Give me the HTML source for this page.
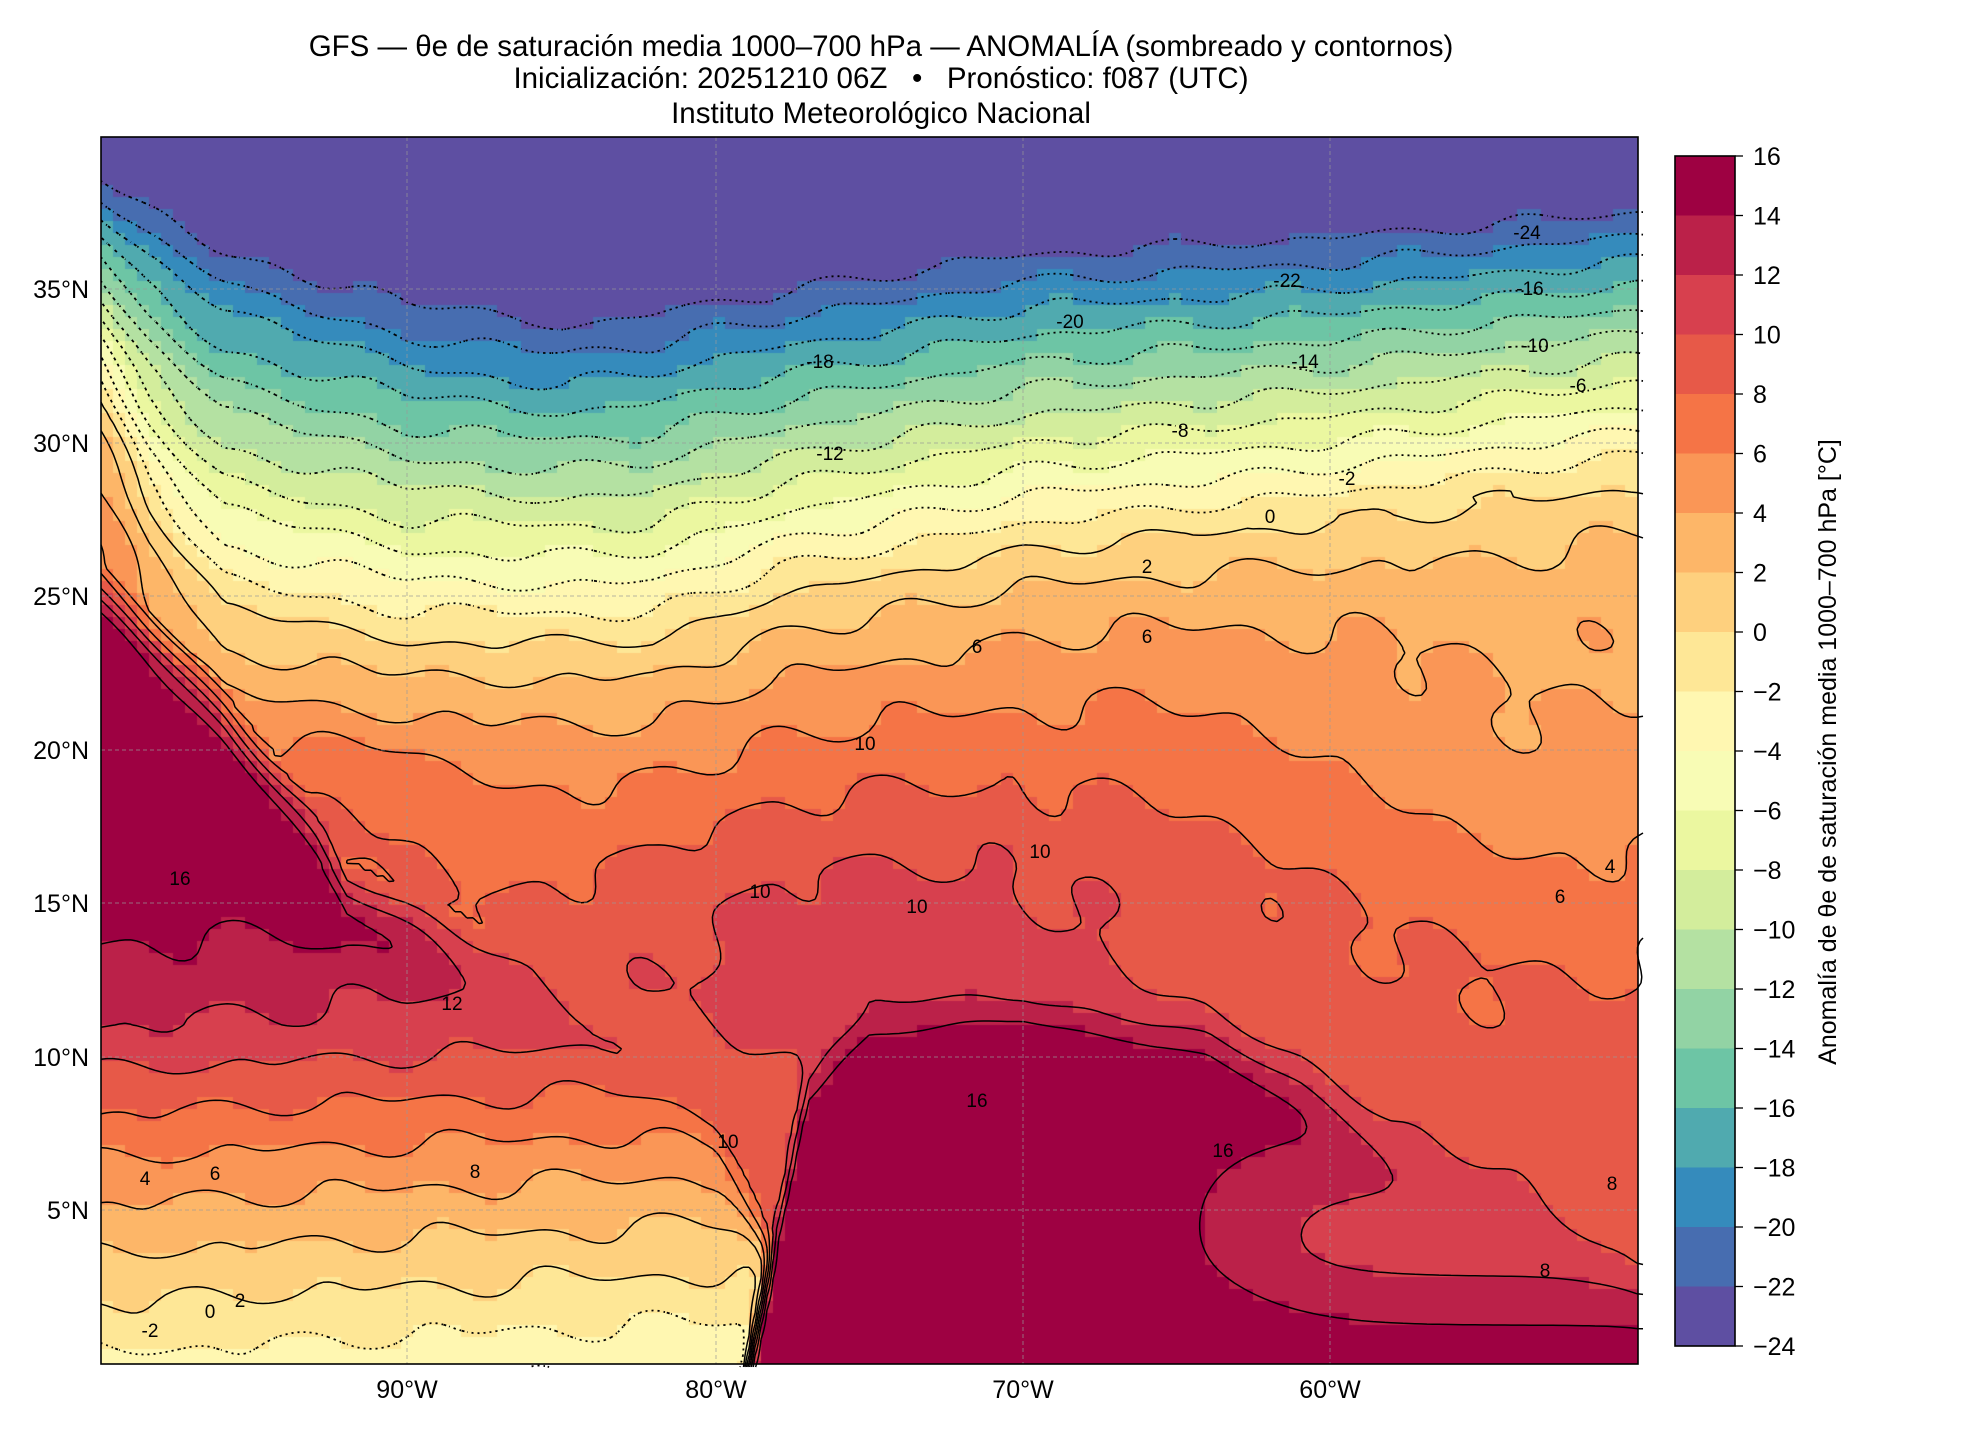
<!DOCTYPE html>
<html><head><meta charset="utf-8">
<style>
body{margin:0;background:#fff;width:1980px;height:1440px;position:relative;overflow:hidden;font-family:"Liberation Sans","DejaVu Sans",sans-serif;}
.t{position:absolute;left:0;width:1762px;text-align:center;font-size:29.5px;color:#000;line-height:1;}
#cv{position:absolute;left:101px;top:137px;}
svg{position:absolute;left:0;top:0;}
</style></head><body>
<svg width="1980" height="1440" id="bg">
<defs>
<linearGradient id="lg" x1="0" y1="0" x2="0" y2="1">
<stop offset="0" stop-color="#5e4fa2"/><stop offset="0.11" stop-color="#5e4fa2"/>
<stop offset="0.15" stop-color="#3288bd"/><stop offset="0.2" stop-color="#66c2a5"/>
<stop offset="0.26" stop-color="#abdda4"/><stop offset="0.31" stop-color="#e6f598"/>
<stop offset="0.35" stop-color="#ffffbf"/><stop offset="0.39" stop-color="#fee08b"/>
<stop offset="0.43" stop-color="#fdae61"/><stop offset="0.5" stop-color="#f46d43"/>
<stop offset="0.6" stop-color="#e45549"/><stop offset="1" stop-color="#e45549"/>
</linearGradient></defs>
<rect x="101" y="137" width="1537" height="1227" fill="url(#lg)"/>
</svg>
<div class="t" style="top:32px">GFS — θe de saturación media 1000–700 hPa — ANOMALÍA (sombreado y contornos)</div>
<div class="t" style="top:64px">Inicialización: 20251210 06Z &nbsp; • &nbsp; Pronóstico: f087 (UTC)</div>
<div class="t" style="top:99px">Instituto Meteorológico Nacional</div>
<canvas id="cv" width="1537" height="1227"></canvas>
<svg id="sv" width="1980" height="1440"></svg>
<script>
var W=1537,H=1227,X0=101,Y0=137;
function lonOf(x){return -100+x/30.74;}
function latOf(y){return 39.95-y/30.7;}
function interp(pts,v){if(v<=pts[0][0])return pts[0][1];for(var i=1;i<pts.length;i++){if(v<=pts[i][0]){var a=pts[i-1],b=pts[i];return a[1]+(b[1]-a[1])*(v-a[0])/(b[0]-a[0]);}}return pts[pts.length-1][1];}
var Z=[[-100,31.5],[-98.5,28],[-96,24.5],[-90,23.5],[-82,23.5],[-78,25],[-70,26.5],[-60,27.5],[-50,28.8]];
var P=[[-100,39.3],[-95,37],[-90,35.5],[-85,34.7],[-80,35.5],[-70,37],[-60,37.5],[-50,38.3]];
var CO=[[-100,25],[-96,21],[-93,17],[-92,15.3],[-86,12.5],[-82,9],[-80,7.5],[-78,3],[-77.5,0]];
var SA=[[-80,-5],[-77,9],[-75,11],[-70,11.5],[-64,10.5],[-61,9],[-58,7],[-54,5.5],[-50,3]];
function sig(t){return 1/(1+Math.exp(-t));}
function gs(v,m,s){var q=(v-m)/s;return Math.exp(-q*q);}
function field(L,f){
  var z=interp(Z,L),p=interp(P,L),v;
  if(f>z){v=-24*(f-z)/(p-z);}
  else{var d=z-f;v=9*(1-Math.exp(-d/5))+3*gs(L,-75,10)*gs(f,14,5)+2*gs(L,-92,4)*gs(f,18.5,2.5)-3*gs(L,-52,8)*gs(f,20,6);}
  var c=interp(CO,L);
  if(L<-77&&f<c+1){
    var pv=f>=16.3?16:(f>11?12+(f-11)*0.74:(f>6?5+(f-6)*1.4:-2.5+f*1.25));
    if(f<16.3)pv-=(L+100)*0.06;
    pv+=2.5*gs(L,-90,3.5)*gs(f,15,1.5);
    var w=sig((c-f)/0.5);
    v=v*(1-w)+pv*w;
  }
  var s=interp(SA,L);
  var w2=sig((s-f)/0.5);
  var sv=16;
  if(L>-66)sv=16-5*sig((L+64)/1.5)*sig((7-f)/1)+4*sig((2-f)/0.7);
  v=Math.max(v,v*(1-w2)+sv*w2);
  v+=0.6*Math.sin(L*1.3+f*0.9)*Math.cos(f*1.1-L*0.4)*(1-w2);
  return Math.max(-24.5,Math.min(16.5,v));
}
var A=['#9e0142','#d53e4f','#f46d43','#fdae61','#fee08b','#ffffbf','#e6f598','#abdda4','#66c2a5','#3288bd','#5e4fa2'];
function hx(h){return [parseInt(h.substr(1,2),16),parseInt(h.substr(3,2),16),parseInt(h.substr(5,2),16)];}
function cmap(t){var x=t*10,i=Math.min(9,Math.floor(x)),r=x-i,a=hx(A[i]),b=hx(A[i+1]),o=[];
  for(var k=0;k<3;k++)o.push(Math.round(a[k]+(b[k]-a[k])*r));return o;}
var cols=[];for(var i=0;i<20;i++)cols.push(cmap(i/19));
function rgb(c){return 'rgb('+c[0]+','+c[1]+','+c[2]+')';}
function colOf(v){var i=Math.floor((16-v)/2);i=Math.max(0,Math.min(19,i));return cols[i];}
var s='';
try{
var S=6,gx=Math.ceil(W/S)+1,gy=Math.ceil(H/S)+1,G=[],i,j;
for(j=0;j<gy;j++){G.push([]);for(i=0;i<gx;i++)G[j].push(field(lonOf(i*S),latOf(j*S)));}
try{
var ctx=document.getElementById('cv').getContext('2d');
var B=12;
for(var yb=0;yb<H;yb+=B)for(var xb=0;xb<W;xb+=B){ctx.fillStyle=rgb(colOf(field(lonOf(xb+B/2),latOf(yb+B/2))));ctx.fillRect(xb,yb,B,B);}
}catch(e1){}
for(var lv=-22;lv<=14;lv+=2){var d='';
 for(j=0;j<gy-1;j++)for(i=0;i<gx-1;i++){
  var a=G[j][i],b=G[j][i+1],c=G[j+1][i+1],e=G[j+1][i],x=i*S,y=j*S,pts=[];
  var E=[[a,b,x,y,x+S,y],[b,c,x+S,y,x+S,y+S],[c,e,x+S,y+S,x,y+S],[e,a,x,y+S,x,y]];
  for(var k=0;k<4;k++){var q=E[k];if((q[0]<lv)!==(q[1]<lv)){var r=(lv-q[0])/(q[1]-q[0]);pts.push([q[2]+(q[4]-q[2])*r,q[3]+(q[5]-q[3])*r]);}}
  for(k=0;k+1<pts.length;k+=2)d+='M'+(pts[k][0]+X0).toFixed(1)+' '+(pts[k][1]+Y0).toFixed(1)+'L'+(pts[k+1][0]+X0).toFixed(1)+' '+(pts[k+1][1]+Y0).toFixed(1);
 }
 var neg=lv<0;
 if(d)s+='<path d="'+d+'" fill="none" stroke="#000" stroke-width="'+(neg?1.8:1.5)+'" '+(neg?'stroke-dasharray="1.5 4"':'')+'/>';
}
}catch(e0){}
var lons=[[90,407],[80,716],[70,1023],[60,1330]];
var lats=[[35,289],[30,443],[25,596],[20,750],[15,903],[10,1057],[5,1210]];
for(i=0;i<lons.length;i++){var X=lons[i][1];s+='<line x1="'+X+'" y1="137" x2="'+X+'" y2="1364" stroke="#999" stroke-width="1" stroke-dasharray="4 3" opacity="0.7"/>';
 s+='<text x="'+X+'" y="1398" font-size="25" text-anchor="middle" font-family="Liberation Sans">'+lons[i][0]+'°W</text>';}
for(i=0;i<lats.length;i++){var Y=lats[i][1];s+='<line x1="101" y1="'+Y+'" x2="1638" y2="'+Y+'" stroke="#999" stroke-width="1" stroke-dasharray="4 3" opacity="0.7"/>';
 s+='<text x="89" y="'+(Y+9)+'" font-size="25" text-anchor="end" font-family="Liberation Sans">'+lats[i][0]+'°N</text>';}
s+='<rect x="101" y="137" width="1537" height="1227" fill="none" stroke="#000" stroke-width="1.6"/>';
var BH=59.5;
for(i=0;i<20;i++){s+='<rect x="1675" y="'+(156+i*BH)+'" width="60" height="'+(BH+0.5)+'" fill="'+rgb(cols[i])+'"/>';}
s+='<rect x="1675" y="156" width="60" height="'+(20*BH)+'" fill="none" stroke="#000" stroke-width="1.6"/>';
for(var v=16;v>=-24;v-=2){var yy=156+(16-v)*BH/2;s+='<line x1="1735" y1="'+yy+'" x2="1743" y2="'+yy+'" stroke="#000" stroke-width="1.3"/><text x="1753" y="'+(yy+9)+'" font-size="25" font-family="Liberation Sans">'+(v<0?'\u2212'+(-v):v)+'</text>';}
s+='<text transform="translate(1836,752) rotate(-90)" font-size="25" text-anchor="middle" font-family="Liberation Sans">Anomalía de θe de saturación media 1000–700 hPa [°C]</text>';
var labs=[[1527,239,'-24'],[1287,287,'-22'],[1530,295,'-16'],[1070,328,'-20'],[1305,368,'-14'],[820,368,'-18'],[1535,352,'-10'],[1578,392,'-6'],[1180,437,'-8'],[830,460,'-12'],[1347,485,'-2'],[1270,523,'0'],[1147,573,'2'],[977,653,'6'],[1147,643,'6'],[1610,873,'4'],[1560,903,'6'],[865,750,'10'],[1040,858,'10'],[917,913,'10'],[760,898,'10'],[452,1010,'12'],[180,885,'16'],[475,1178,'8'],[215,1180,'6'],[145,1185,'4'],[240,1307,'2'],[210,1318,'0'],[150,1337,'-2'],[977,1107,'16'],[1223,1157,'16'],[1612,1190,'8'],[1545,1277,'8'],[728,1148,'10']];
for(i=0;i<labs.length;i++)s+='<text x="'+labs[i][0]+'" y="'+labs[i][1]+'" font-size="19" text-anchor="middle" font-family="Liberation Sans">'+labs[i][2]+'</text>';
document.getElementById('sv').innerHTML=s;
</script>
</body></html>
